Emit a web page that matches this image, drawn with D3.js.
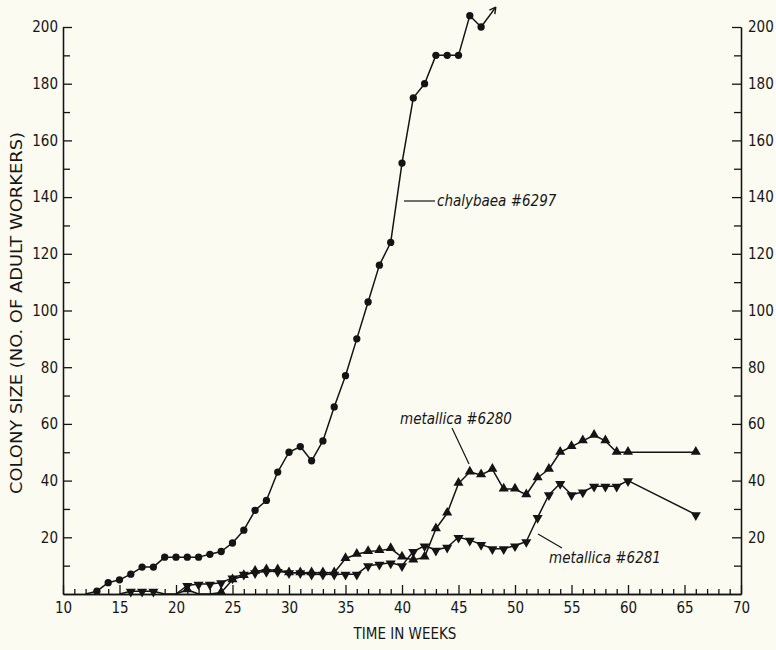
<!DOCTYPE html>
<html>
<head>
<meta charset="utf-8">
<script src="https://cdn.jsdelivr.net/npm/d3@7"></script>
<style>
  body { margin: 0; background: #fbfbf1; }
  text { font-family: "DejaVu Sans Condensed", "Liberation Sans Narrow", "DejaVu Sans", sans-serif; fill: #161616; }
</style>
</head>
<body>
<svg id="chart" width="776" height="650"></svg>
<script>
// colony size (no. of adult workers) per week
const chalybaeaWeeks = d3.range(12, 48);
const chalybaeaSize = [0, 1, 4, 5, 7, 9.5, 9.5, 13, 13, 13, 13, 14, 15, 18, 22.5, 29.5, 33, 43, 50, 52,
  47, 54, 66, 77, 90, 103, 116, 124, 152, 175, 180, 190, 190, 190, 204, 200];
const chalybaeaArrowTip = [48.3, 207];   // curve keeps rising off the chart

const m6280Weeks = d3.range(20, 61).concat([66]);
const m6280Size = [0, 1.5, 0, 0, 0.5, 5, 6.5, 8, 8.5, 8.5, 7.5, 7.5, 7.5, 7.5, 7.5, 12.5, 14, 15, 15.3, 16,
  13, 12, 13, 23, 28.5, 39, 43, 42, 44, 37, 37, 35, 41, 44, 50, 52, 54, 56, 54, 50, 50, 50];

const m6281Weeks = d3.range(15, 61).concat([66]);
const m6281Size = [0, 1, 1, 1, 0, 0, 3, 3.5, 3.5, 4, 5.7, 7, 7.5, 8, 8, 7.5, 7.5, 7, 7, 7, 7, 7, 10, 10.5, 11,
  10, 15, 17, 15.5, 16.5, 20, 19, 17.5, 16, 16, 17, 18.5, 27, 35, 39, 35, 36, 38, 38, 38, 40, 28];

const xTicks = d3.range(10, 71, 5);
const xMinor = d3.range(10, 71, 1).filter(d => d % 5 !== 0);
const yTicks = d3.range(20, 201, 20);
const yMinor = d3.range(10, 201, 20);

const svg = d3.select("#chart");
const x = d3.scaleLinear().domain([10, 70]).range([63, 741]);
const y = d3.scaleLinear().domain([0, 200]).range([594, 27]);
const ink = "#141414";

// axes, ticks pointing inwards
function styleAxis(g) {
  g.selectAll("path, line").attr("stroke", ink).attr("stroke-width", 1.3);
  g.selectAll("text").style("font-size", "15px").attr("fill", ink);
}
svg.append("g").attr("transform", "translate(0,594)")
  .call(d3.axisBottom(x).tickValues(xTicks).tickSize(-9).tickSizeOuter(0).tickPadding(8))
  .call(styleAxis);
svg.append("g").attr("transform", "translate(0,594)")
  .call(d3.axisBottom(x).tickValues(xMinor).tickSize(-5).tickSizeOuter(0).tickFormat(""))
  .call(styleAxis);
svg.append("g").attr("transform", "translate(63,0)")
  .call(d3.axisLeft(y).tickValues(yTicks).tickSize(-9).tickSizeOuter(0).tickPadding(5))
  .call(styleAxis);
svg.append("g").attr("transform", "translate(63,0)")
  .call(d3.axisLeft(y).tickValues(yMinor).tickSize(-7).tickSizeOuter(0).tickFormat(""))
  .call(styleAxis);
svg.append("g").attr("transform", "translate(741,0)")
  .call(d3.axisRight(y).tickValues(yTicks).tickSize(-9).tickSizeOuter(0).tickPadding(7))
  .call(styleAxis);
svg.append("g").attr("transform", "translate(741,0)")
  .call(d3.axisRight(y).tickValues(yMinor).tickSize(-7).tickSizeOuter(0).tickFormat(""))
  .call(styleAxis);

// axis titles
svg.append("text").attr("x", 405).attr("y", 639).attr("text-anchor", "middle")
  .style("font-size", "15px").text("TIME IN WEEKS");
svg.append("text").attr("transform", "translate(22,313) rotate(-90)").attr("text-anchor", "middle")
  .style("font-size", "15px").attr("textLength", 362).attr("lengthAdjust", "spacingAndGlyphs")
  .text("COLONY SIZE (NO. OF ADULT WORKERS)");

// series; points sitting on the baseline carry no visible marker
const line = d3.line().x(d => x(d[0])).y(d => y(d[1]));
function drawSeries(weeks, sizes, marker) {
  const pts = weeks.map((w, i) => [w, sizes[i]]);
  svg.append("path").datum(pts).attr("d", line)
    .attr("fill", "none").attr("stroke", ink).attr("stroke-width", 1.5).attr("stroke-linejoin", "round");
  const m = svg.append("g").selectAll("path").data(pts.filter(d => d[1] > 0)).enter().append("path")
    .attr("fill", ink);
  if (marker === "circle") {
    m.attr("d", d3.symbol(d3.symbolCircle, 42)).attr("transform", d => `translate(${x(d[0])},${y(d[1])})`);
  } else if (marker === "up") {
    m.attr("d", d3.symbol(d3.symbolTriangle, 44)).attr("transform", d => `translate(${x(d[0])},${y(d[1]) - 0.5})`);
  } else {
    m.attr("d", d3.symbol(d3.symbolTriangle, 44)).attr("transform", d => `translate(${x(d[0])},${y(d[1]) + 0.5}) rotate(180)`);
  }
}
drawSeries(m6281Weeks, m6281Size, "down");
drawSeries(m6280Weeks, m6280Size, "up");
drawSeries(chalybaeaWeeks, chalybaeaSize, "circle");

// arrow showing chalybaea continues upward
const last = [chalybaeaWeeks[chalybaeaWeeks.length - 1], chalybaeaSize[chalybaeaSize.length - 1]];
const x0 = x(last[0]), y0 = y(last[1]), x1 = x(chalybaeaArrowTip[0]), y1 = y(chalybaeaArrowTip[1]);
svg.append("line").attr("x1", x0).attr("y1", y0).attr("x2", x1).attr("y2", y1)
  .attr("stroke", ink).attr("stroke-width", 1.5);
const ang = Math.atan2(y1 - y0, x1 - x0);
[-0.5, 0.5].forEach(a => {
  svg.append("line").attr("x1", x1).attr("y1", y1)
    .attr("x2", x1 - 7 * Math.cos(ang + a)).attr("y2", y1 - 7 * Math.sin(ang + a))
    .attr("stroke", ink).attr("stroke-width", 1.4);
});

// labels with leader lines
function label(text, tx, ty, lx1, ly1, lx2, ly2) {
  svg.append("line").attr("x1", lx1).attr("y1", ly1).attr("x2", lx2).attr("y2", ly2)
    .attr("stroke", ink).attr("stroke-width", 1.2);
  svg.append("text").attr("x", tx).attr("y", ty).style("font-size", "15px").style("font-style", "italic")
    .text(text);
}
label("chalybaea #6297", 437, 206, 404, 201, 435, 201);
label("metallica #6280", 400, 424, 452, 428, 469, 464);
label("metallica #6281", 549, 563, 538, 534, 562, 548);
</script>
</body>
</html>
